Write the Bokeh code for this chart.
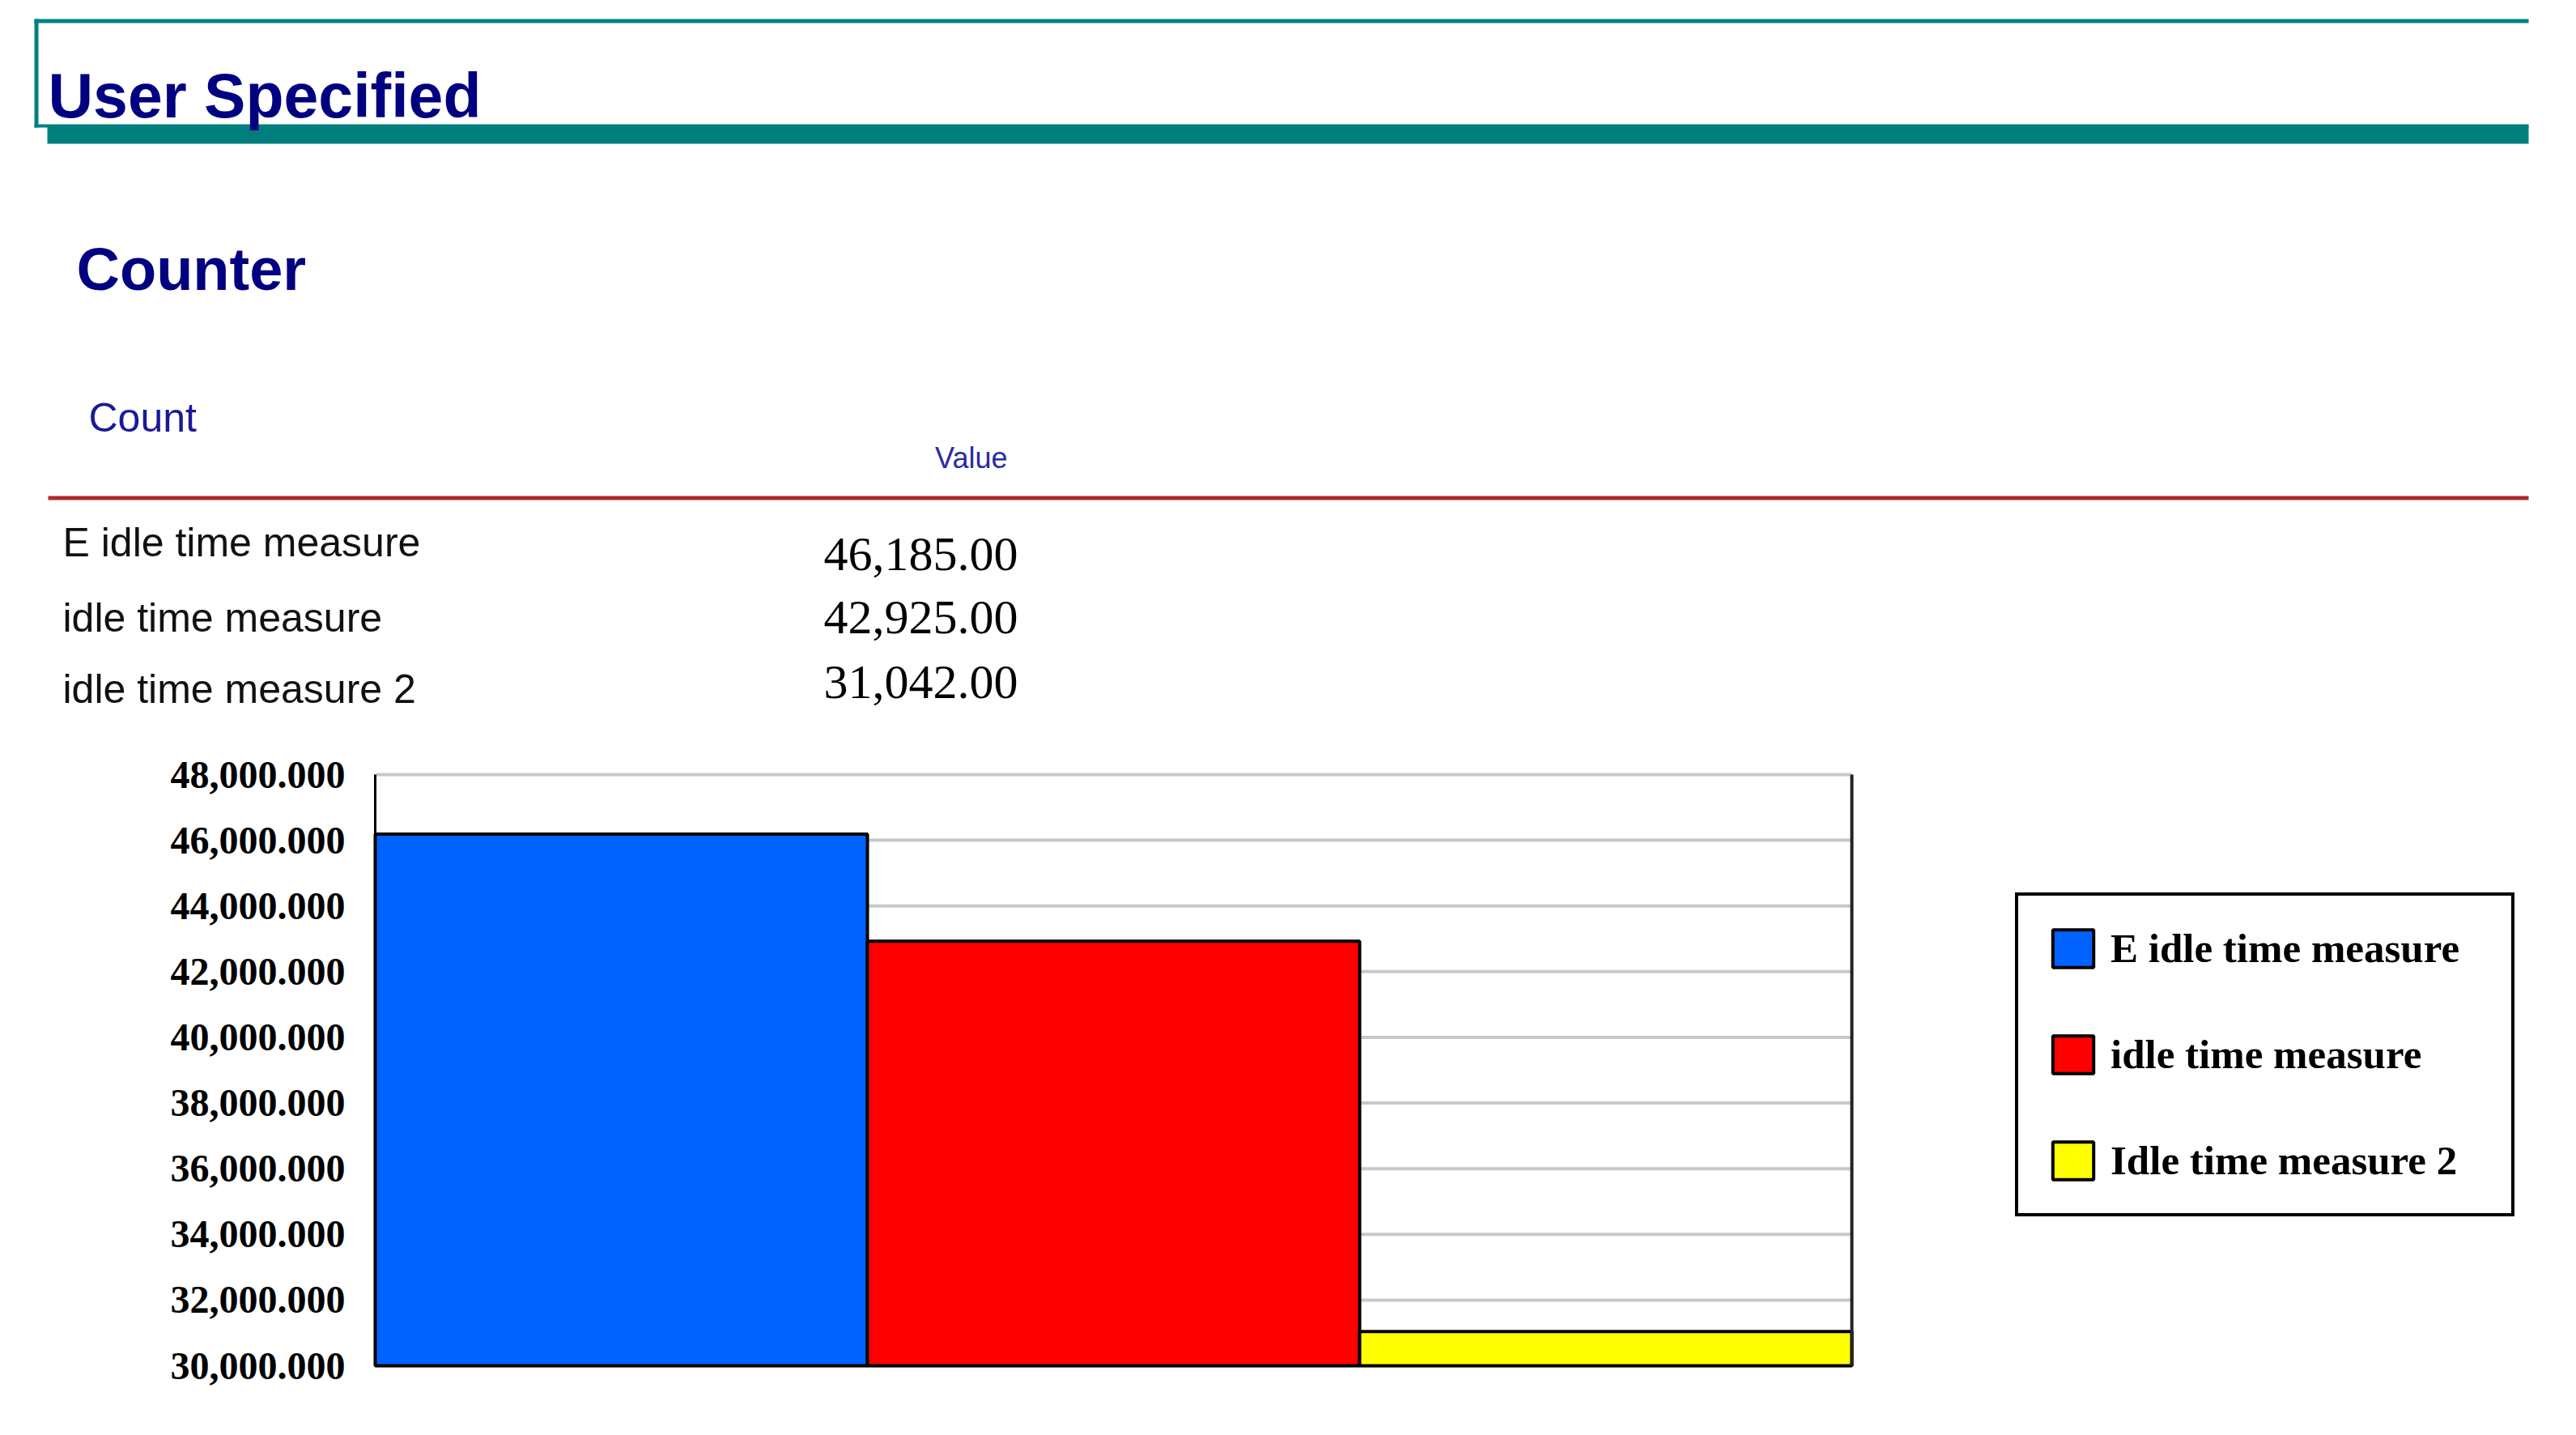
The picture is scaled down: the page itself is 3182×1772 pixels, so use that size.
from bokeh.plotting import figure
from bokeh.models import (Range1d, FixedTicker, NumeralTickFormatter, Legend, LegendItem,
                          LinearAxis, ColumnDataSource)
from bokeh.core.properties import value
from bokeh.embed import file_html
from bokeh.resources import INLINE

# ---------------- data ----------------
section_title = "User Specified"
subsection_title = "Counter"
table_title = "Count"
value_header = "Value"
categories = ["E idle time measure", "idle time measure", "idle time measure 2"]
legend_labels = ["E idle time measure", "idle time measure", "Idle time measure 2"]
counts = [46185.00, 42925.00, 31042.00]
bar_colors = ["#0062FF", "#FF0000", "#FFFF00"]
y_ticks = [30000, 32000, 34000, 36000, 38000, 40000, 42000, 44000, 46000, 48000]
y_min, y_max = 30000, 48000

# ---------------- layout constants (page pixels) ----------------
W, H = 3166, 1756
X0, X1, Y0, Y1 = 8, 8 + W, 8, 8 + H          # canvas on page
CL, CR, CT, CB = 471, 2295, 964, 1694         # chart plotting area on page
SANS = value("Liberation Sans")
SERIF = value("Liberation Serif")

n = len(categories)
bx_per_px = n / (CR - CL)
val_per_px = (y_max - y_min) / (CB - CT)

p = figure(width=W, height=H, x_range=Range1d(X0, X1), y_range=Range1d(Y1, Y0),
           x_axis_location=None, y_axis_location=None, toolbar_location=None,
           output_backend="svg", min_border=0, outline_line_color=None)
p.grid.visible = False
p.extra_x_ranges = {"bx": Range1d(0 - (CL - X0) * bx_per_px, n + (X1 - CR) * bx_per_px)}
p.extra_y_ranges = {"val": Range1d(y_min - (Y1 - CB) * val_per_px, y_max + (CT - Y0) * val_per_px)}

# ---------------- header ----------------
teal = "#008080"
p.quad(left=[50], right=[3131], top=[31], bottom=[36], fill_color=teal, line_color=None)
p.quad(left=[50], right=[55], top=[31], bottom=[165], fill_color=teal, line_color=None)
p.quad(left=[50], right=[3131], top=[161], bottom=[165], fill_color=teal, line_color=None)
p.quad(left=[66], right=[3131], top=[163], bottom=[185], fill_color="#007d7d", line_color=None)

p.text(x=[67], y=[125], text=[section_title], text_font=SANS, text_font_style="bold",
       text_font_size="77px", text_color="#000080", text_baseline="alphabetic")
p.text(x=[102], y=[340], text=[subsection_title], text_font=SANS, text_font_style="bold",
       text_font_size="74px", text_color="#000080", text_baseline="alphabetic")
p.text(x=[117], y=[523], text=[table_title], text_font=SANS,
       text_font_size="50px", text_color="#1a1a99", text_baseline="alphabetic")
p.text(x=[1252], y=[573], text=[value_header], text_font=SANS,
       text_font_size="36px", text_color="#2a2aa5", text_baseline="alphabetic", text_align="right")

# red rule
p.quad(left=[67], right=[3131], top=[620], bottom=[625], fill_color="#b02a2a", line_color=None)

# ---------------- table ----------------
label_baselines = [677, 770, 858]
value_baselines = [692, 770, 850]
p.text(x=[85] * n, y=label_baselines, text=categories, text_font=SANS,
       text_font_size="50px", text_color="#111111", text_baseline="alphabetic")
p.text(x=[1265] * n, y=value_baselines, text=[f"{v:,.2f}" for v in counts],
       text_font=SERIF, text_font_size="60px", text_color="#000000",
       text_baseline="alphabetic", text_align="right")

# ---------------- bar chart ----------------
p.segment(x0=[0] * len(y_ticks), x1=[n] * len(y_ticks), y0=y_ticks, y1=y_ticks,
          x_range_name="bx", y_range_name="val", line_color="#c8c8c8", line_width=4)

src = ColumnDataSource(dict(x=[i + 0.5 for i in range(n)], top=counts, color=bar_colors))
r = p.vbar(x="x", top="top", bottom=y_min, width=1.0, fill_color="color",
           line_color="black", line_width=4, source=src,
           x_range_name="bx", y_range_name="val")

yax = LinearAxis(x_range_name="bx", y_range_name="val", fixed_location=0,
                 bounds=(y_min, y_max),
                 ticker=FixedTicker(ticks=y_ticks),
                 formatter=NumeralTickFormatter(format="0,0.000"),
                 major_label_text_font="Liberation Serif",
                 major_label_text_font_style="bold",
                 major_label_text_font_size="48px",
                 major_label_text_color="black",
                 major_tick_line_color=None, minor_tick_line_color=None,
                 axis_line_color="black", axis_line_width=3,
                 major_label_standoff=31)
p.add_layout(yax, "left")

right_ax = LinearAxis(x_range_name="bx", y_range_name="val", fixed_location=n,
                      bounds=(y_min, y_max), ticker=FixedTicker(ticks=[]),
                      axis_line_color="#222222", axis_line_width=4,
                      major_tick_line_color=None, minor_tick_line_color=None)
p.add_layout(right_ax, "right")

legend = Legend(items=[LegendItem(label=legend_labels[i], renderers=[r], index=i)
                       for i in range(n)],
                location=(2497 - X0, Y1 - 1510), margin=0, padding=36, spacing=73,
                glyph_width=63, glyph_height=58, label_height=58, label_standoff=15,
                label_width=459,
                label_text_font="Liberation Serif", label_text_font_style="bold",
                label_text_font_size="51px", label_text_color="black",
                border_line_color="black", border_line_width=4, border_line_alpha=1.0,
                background_fill_color="white", background_fill_alpha=1.0)
p.add_layout(legend)

open("out.html", "w").write(file_html(p, INLINE))
